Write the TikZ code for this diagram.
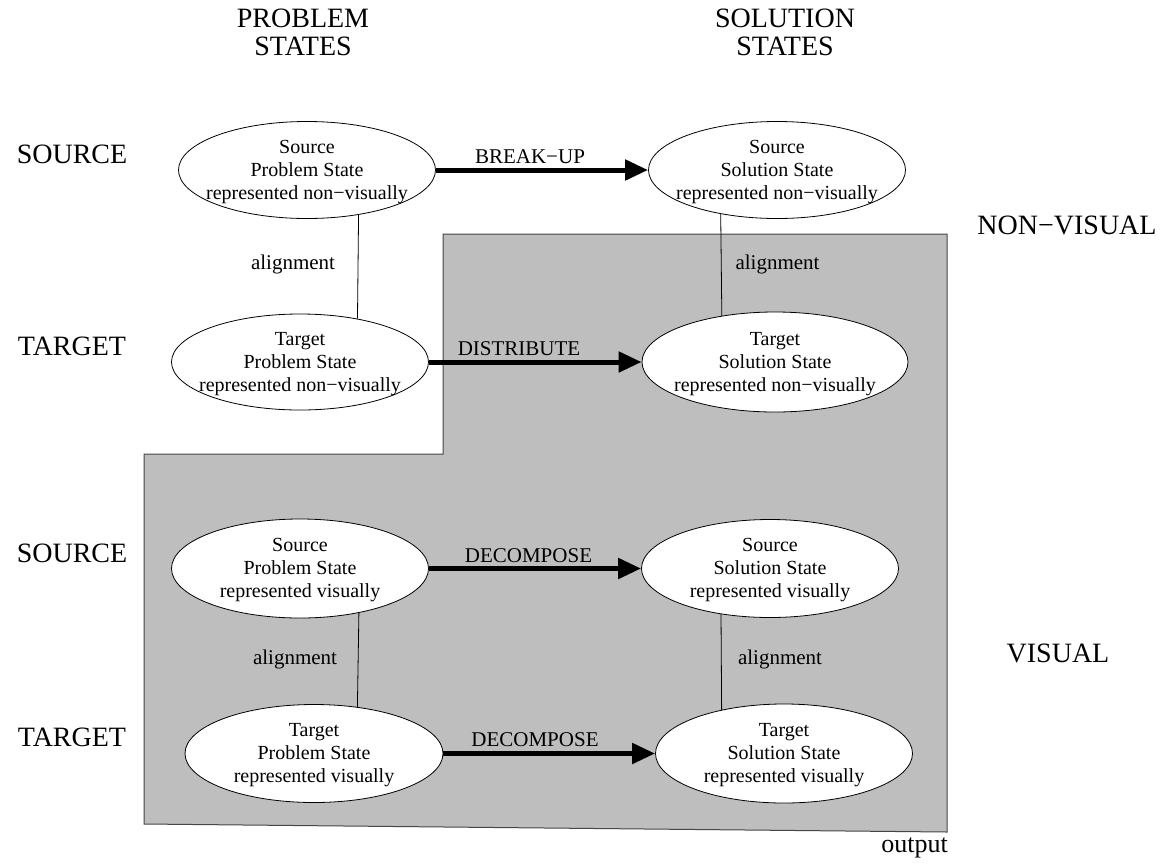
\documentclass[tikz,border=0pt]{standalone}
\usepackage{fontspec}
\setmainfont{Liberation Serif}
\usetikzlibrary{arrows.meta,shapes.geometric}
\definecolor{panelgray}{RGB}{190,190,190}
\definecolor{paneledge}{RGB}{70,70,70}

\begin{document}
\begin{tikzpicture}[x=1pt,y=-1pt,
  state/.style={ellipse, draw=black, line width=0.8pt, fill=white, inner sep=0pt,
                minimum width=257pt, minimum height=97pt},
  statetext/.style={align=center, font=\fontsize{20}{23}\selectfont, inner sep=0pt, yshift=-2pt},
  flow/.style={line width=5pt, -{Triangle[length=23pt,width=20pt]}},
  link/.style={line width=0.8pt},
  lbl/.style={font=\fontsize{21}{24}\selectfont, inner sep=0pt, anchor=base},
  big/.style={font=\fontsize{28}{28}\selectfont, inner sep=0pt, align=center},
]
\useasboundingbox (0,0) rectangle (1167,863);

% shaded area: the part that produces output
\filldraw[fill=panelgray, draw=paneledge, line width=1pt]
  (443,234) -- (947,234) -- (947,832) -- (144,824) -- (144,454) -- (443,454) -- cycle;

% column and row headings
\node[big] (hprob) at (303,32) {PROBLEM\\STATES};
\node[big] (hsol)  at (785,32) {SOLUTION\\STATES};
\node[big, anchor=base] (r1) at (72,163) {SOURCE};
\node[big, anchor=base] (r2) at (72,355) {TARGET};
\node[big, anchor=base] (r3) at (72,562) {SOURCE};
\node[big, anchor=base] (r4) at (72,746) {TARGET};
\node[big, anchor=base] (nv) at (1067,234) {NON−VISUAL};
\node[big, anchor=base] (vi) at (1058,662) {VISUAL};
\node[font=\fontsize{26}{26}\selectfont, inner sep=0pt, anchor=base east] (out) at (948,852) {output};

% states
\node[state, label={[statetext]center:{Source\\Problem State\\represented non−visually}}] (A1) at (307,170) {};
\node[state, label={[statetext]center:{Source\\Solution State\\represented non−visually}}] (A2) at (777,170) {};
\node[state, minimum height=96pt, label={[statetext]center:{Target\\Problem State\\represented non−visually}}] (B1) at (300,362) {};
\node[state, minimum width=266pt, minimum height=100pt, label={[statetext]center:{Target\\Solution State\\represented non−visually}}] (B2) at (775,362) {};
\node[state, minimum height=99pt, label={[statetext]center:{Source\\Problem State\\represented visually}}] (C1) at (300,568.5) {};
\node[state, minimum height=98pt, label={[statetext]center:{Source\\Solution State\\represented visually}}] (C2) at (770,568.5) {};
\node[state, minimum width=258pt, minimum height=98pt, label={[statetext]center:{Target\\Problem State\\represented visually}}] (D1) at (314,753.5) {};
\node[state, minimum height=99pt, label={[statetext]center:{Target\\Solution State\\represented visually}}] (D2) at (784,753.5) {};

% transformations
\draw[flow] (A1) -- (A2);
\draw[flow] (B1) -- (B2);
\draw[flow] (C1) -- (C2);
\draw[flow] (D1) -- (D2);
\node[lbl] (tA) at (530,163) {BREAK−UP};
\node[lbl] (tB) at (519,355) {DISTRIBUTE};
\node[lbl] (tC) at (528.5,562) {DECOMPOSE};
\node[lbl] (tD) at (535,746) {DECOMPOSE};

% alignments between source and target
\draw[link] (A1.-41.5) -- (B1.37.3);
\draw[link] (A2.-142.1) -- (B2.139.8);
\draw[link] (C1.-37.5) -- (D1.47.1);
\draw[link] (C2.-137.25) -- (D2.145.6);
\node[lbl] (aA1) at (293,269) {alignment};
\node[lbl] (aA2) at (777.5,269) {alignment};
\node[lbl] (aC1) at (295,664) {alignment};
\node[lbl] (aC2) at (780,664) {alignment};
\end{tikzpicture}
\end{document}
